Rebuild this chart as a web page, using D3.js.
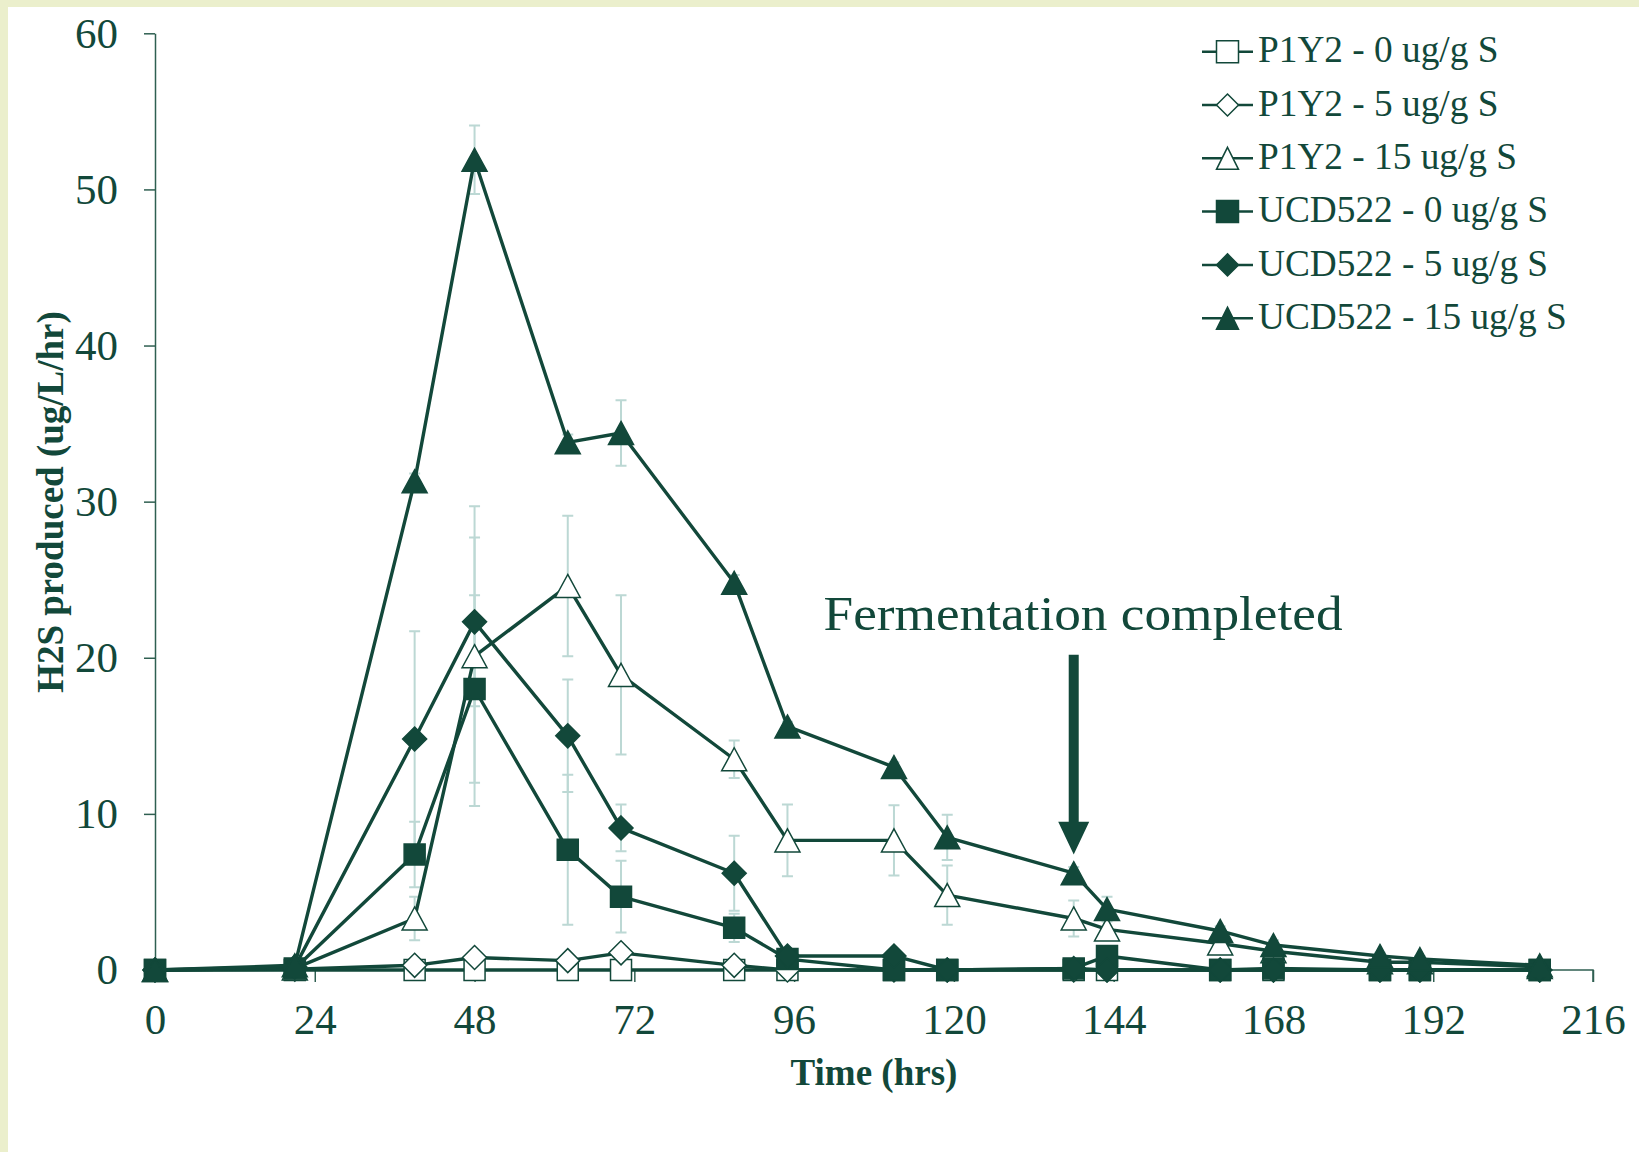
<!DOCTYPE html>
<html lang="en">
<head>
    <meta charset="UTF-8">
    <title>H2S production</title>
    <script src="https://d3js.org/d3.v7.min.js"></script>
    <style>
        body { margin: 0; background: #fff; }
        svg { display: block; font-family: "Liberation Serif", "Times New Roman", serif; }
        .axis path, .axis line { stroke: #2f5f51; stroke-width: 1.5; }
        .axis text { fill: #12483a; font-size: 43px; font-family: "Liberation Serif", serif; }
    </style>
</head>
<body>
<svg width="1639" height="1152"></svg>
<script>
    // sampling times (hrs)
    const hours = [0, 21, 39, 48, 62, 70, 87, 95, 111, 119, 138, 143, 160, 168, 184, 190, 208];

    const seriesNames = ["P1Y2 - 0 ug/g S", "P1Y2 - 5 ug/g S", "P1Y2 - 15 ug/g S",
        "UCD522 - 0 ug/g S", "UCD522 - 5 ug/g S", "UCD522 - 15 ug/g S"];
    const seriesShapes = ["square", "diamond", "triangle", "square", "diamond", "triangle"];
    const seriesFilled = [false, false, false, true, true, true];

    // H2S (ug/L/hr)
    const p1y2_0 = [0, 0, 0, 0, 0, 0, 0, 0, 0, 0, 0, 0, 0, 0, 0, 0, 0];
    const p1y2_5 = [0, 0.05, 0.3, 0.8, 0.6, 1.1, 0.3, 0, 0, 0, 0, 0, 0, 0, 0, 0, 0];
    const p1y2_15 = [0, 0.1, 3.3, 20.1, 24.6, 18.9, 13.5, 8.3, 8.3, 4.8, 3.3, 2.6, 1.7, 1.2, 0.5, 0.5, 0.2];
    const ucd522_0 = [0, 0.1, 7.4, 18.0, 7.7, 4.7, 2.7, 0.7, 0, 0, 0.1, 0.9, 0, 0.1, 0, 0, 0];
    const ucd522_5 = [0, 0.2, 14.8, 22.3, 15.0, 9.1, 6.2, 0.9, 0.9, 0, 0.1, 0, 0, 0, 0, 0, 0];
    const ucd522_15 = [0, 0.3, 31.3, 51.9, 33.8, 34.4, 24.8, 15.6, 13.0, 8.5, 6.2, 3.9, 2.5, 1.6, 0.9, 0.7, 0.3];

    // +/- error
    const p1y2_0_err = [0, 0, 0, 0, 0, 0, 0, 0, 0, 0, 0, 0, 0, 0, 0, 0, 0];
    const p1y2_5_err = [0, 0, 0.2, 0.3, 0.2, 0.3, 0.2, 0, 0, 0, 0, 0, 0, 0, 0, 0, 0];
    const p1y2_15_err = [0, 0, 1.4, 9.6, 4.5, 5.1, 1.2, 2.3, 2.25, 1.9, 1.15, 0.6, 0.4, 0.3, 0.2, 0.2, 0.1];
    const ucd522_0_err = [0, 0, 2.1, 6.0, 4.8, 2.3, 0.9, 0.3, 0, 0, 0.1, 0.5, 0, 0, 0, 0, 0];
    const ucd522_5_err = [0, 0, 6.9, 5.4, 3.6, 1.5, 2.4, 0.3, 0.3, 0, 0, 0, 0, 0, 0, 0, 0];
    const ucd522_15_err = [0, 0, 0.5, 2.2, 0.5, 2.1, 0.5, 0.3, 0.3, 1.45, 0.4, 0.8, 0.3, 0.3, 0.2, 0.2, 0.1];

    const xTicks = [0, 24, 48, 72, 96, 120, 144, 168, 192, 216];
    const yTicks = [0, 10, 20, 30, 40, 50, 60];

    const values = [p1y2_0, p1y2_5, p1y2_15, ucd522_0, ucd522_5, ucd522_15];
    const errors = [p1y2_0_err, p1y2_5_err, p1y2_15_err, ucd522_0_err, ucd522_5_err, ucd522_15_err];

    const green = "#12483a";
    const errColor = "#bcd8d4";

    const svg = d3.select("svg");

    // page frame
    svg.append("rect").attr("x", 0).attr("y", 0).attr("width", 1639).attr("height", 7).attr("fill", "#ebefcc");
    svg.append("rect").attr("x", 0).attr("y", 0).attr("width", 8).attr("height", 1152).attr("fill", "#ebefcc");

    const x = d3.scaleLinear().domain([0, 216]).range([155, 1593]);
    const y = d3.scaleLinear().domain([0, 60]).range([970, 33.3]);

    svg.append("g")
        .attr("class", "axis")
        .attr("transform", `translate(0,${y(0)})`)
        .call(d3.axisBottom(x).tickValues(xTicks).tickSize(12).tickSizeOuter(0).tickPadding(21))
        .call(g => g.select(".domain").attr("d", `M${x(0)},0H${x(216)}V12`));

    svg.append("g")
        .attr("class", "axis")
        .attr("transform", `translate(${x(0)},0)`)
        .call(d3.axisLeft(y).tickValues(yTicks).tickSize(11).tickSizeOuter(0).tickPadding(26));

    svg.selectAll(".axis text").attr("fill", green);

    // axis titles
    svg.append("text")
        .attr("x", 874).attr("y", 1085)
        .attr("text-anchor", "middle")
        .attr("font-size", 37).attr("font-weight", "bold").attr("fill", green)
        .text("Time (hrs)");

    svg.append("text")
        .attr("transform", "translate(63,502) rotate(-90)")
        .attr("text-anchor", "middle")
        .attr("font-size", 37).attr("font-weight", "bold").attr("fill", green)
        .text("H2S produced (ug/L/hr)");

    // marker shapes centred on 0,0
    function shapePath(shape, s) {
        if (shape === "square") {
            const h = s.sq / 2;
            return `M${-h},${-h}H${h}V${h}H${-h}Z`;
        }
        if (shape === "diamond") {
            const h = s.di / 2;
            return `M0,${-h}L${h},0L0,${h}L${-h},0Z`;
        }
        const w = s.trW / 2, h = s.trH / 2;
        return `M0,${-h}L${w},${h}L${-w},${h}Z`;
    }
    const plotSize = {sq: 21, di: 24, trW: 25, trH: 23};
    const legendSize = {sq: 22, di: 22, trW: 22, trH: 22};

    // error bars (behind everything)
    const errG = svg.append("g");
    values.forEach((vals, si) => {
        vals.forEach((v, i) => {
            const e = errors[si][i];
            if (!e) return;
            const cx = x(hours[i]);
            const y1 = y(v + e), y2 = y(Math.max(0, v - e));
            errG.append("path")
                .attr("d", `M${cx},${y1}V${y2}M${cx - 5.5},${y1}H${cx + 5.5}M${cx - 5.5},${y2}H${cx + 5.5}`)
                .attr("fill", "none")
                .attr("stroke", errColor)
                .attr("stroke-width", 2);
        });
    });

    const line = d3.line()
        .x((d, i) => x(hours[i]))
        .y(d => y(d));

    values.forEach((vals, si) => {
        const g = svg.append("g");
        g.append("path")
            .datum(vals)
            .attr("d", line)
            .attr("fill", "none")
            .attr("stroke", green)
            .attr("stroke-width", 3.4)
            .attr("stroke-linejoin", "round");
        g.selectAll("path.mark")
            .data(vals)
            .join("path")
            .attr("class", "mark")
            .attr("transform", (d, i) => `translate(${x(hours[i])},${y(d)})`)
            .attr("d", shapePath(seriesShapes[si], plotSize))
            .attr("fill", seriesFilled[si] ? green : "#fff")
            .attr("stroke", green)
            .attr("stroke-width", 1.5);
    });

    // annotation
    svg.append("text")
        .attr("x", x(139.4)).attr("y", y(21.8))
        .attr("text-anchor", "middle")
        .attr("font-size", 49).attr("fill", green)
        .attr("textLength", 519).attr("lengthAdjust", "spacingAndGlyphs")
        .text("Fermentation completed");

    const ax = x(138);
    const aTop = y(20.2), aHeadBase = y(9.5), aTip = y(7.4);
    svg.append("path")
        .attr("d", `M${ax - 5},${aTop}H${ax + 5}V${aHeadBase}H${ax + 15.5}L${ax},${aTip}L${ax - 15.5},${aHeadBase}H${ax - 5}Z`)
        .attr("fill", green);

    // legend
    const legend = svg.append("g").attr("transform", "translate(1202,0)");
    seriesNames.forEach((name, i) => {
        const cy = 51.7 + i * 53.3;
        const row = legend.append("g").attr("transform", `translate(0,${cy})`);
        row.append("line").attr("x1", 0).attr("x2", 51).attr("y1", 0).attr("y2", 0)
            .attr("stroke", green).attr("stroke-width", 2.5);
        row.append("path")
            .attr("transform", "translate(25.5,0)")
            .attr("d", shapePath(seriesShapes[i], legendSize))
            .attr("fill", seriesFilled[i] ? green : "#fff")
            .attr("stroke", green).attr("stroke-width", 1.5);
        row.append("text")
            .attr("x", 56).attr("y", 10.7)
            .attr("font-size", 37.3).attr("fill", green)
            .text(name);
    });
</script>
</body>
</html>
